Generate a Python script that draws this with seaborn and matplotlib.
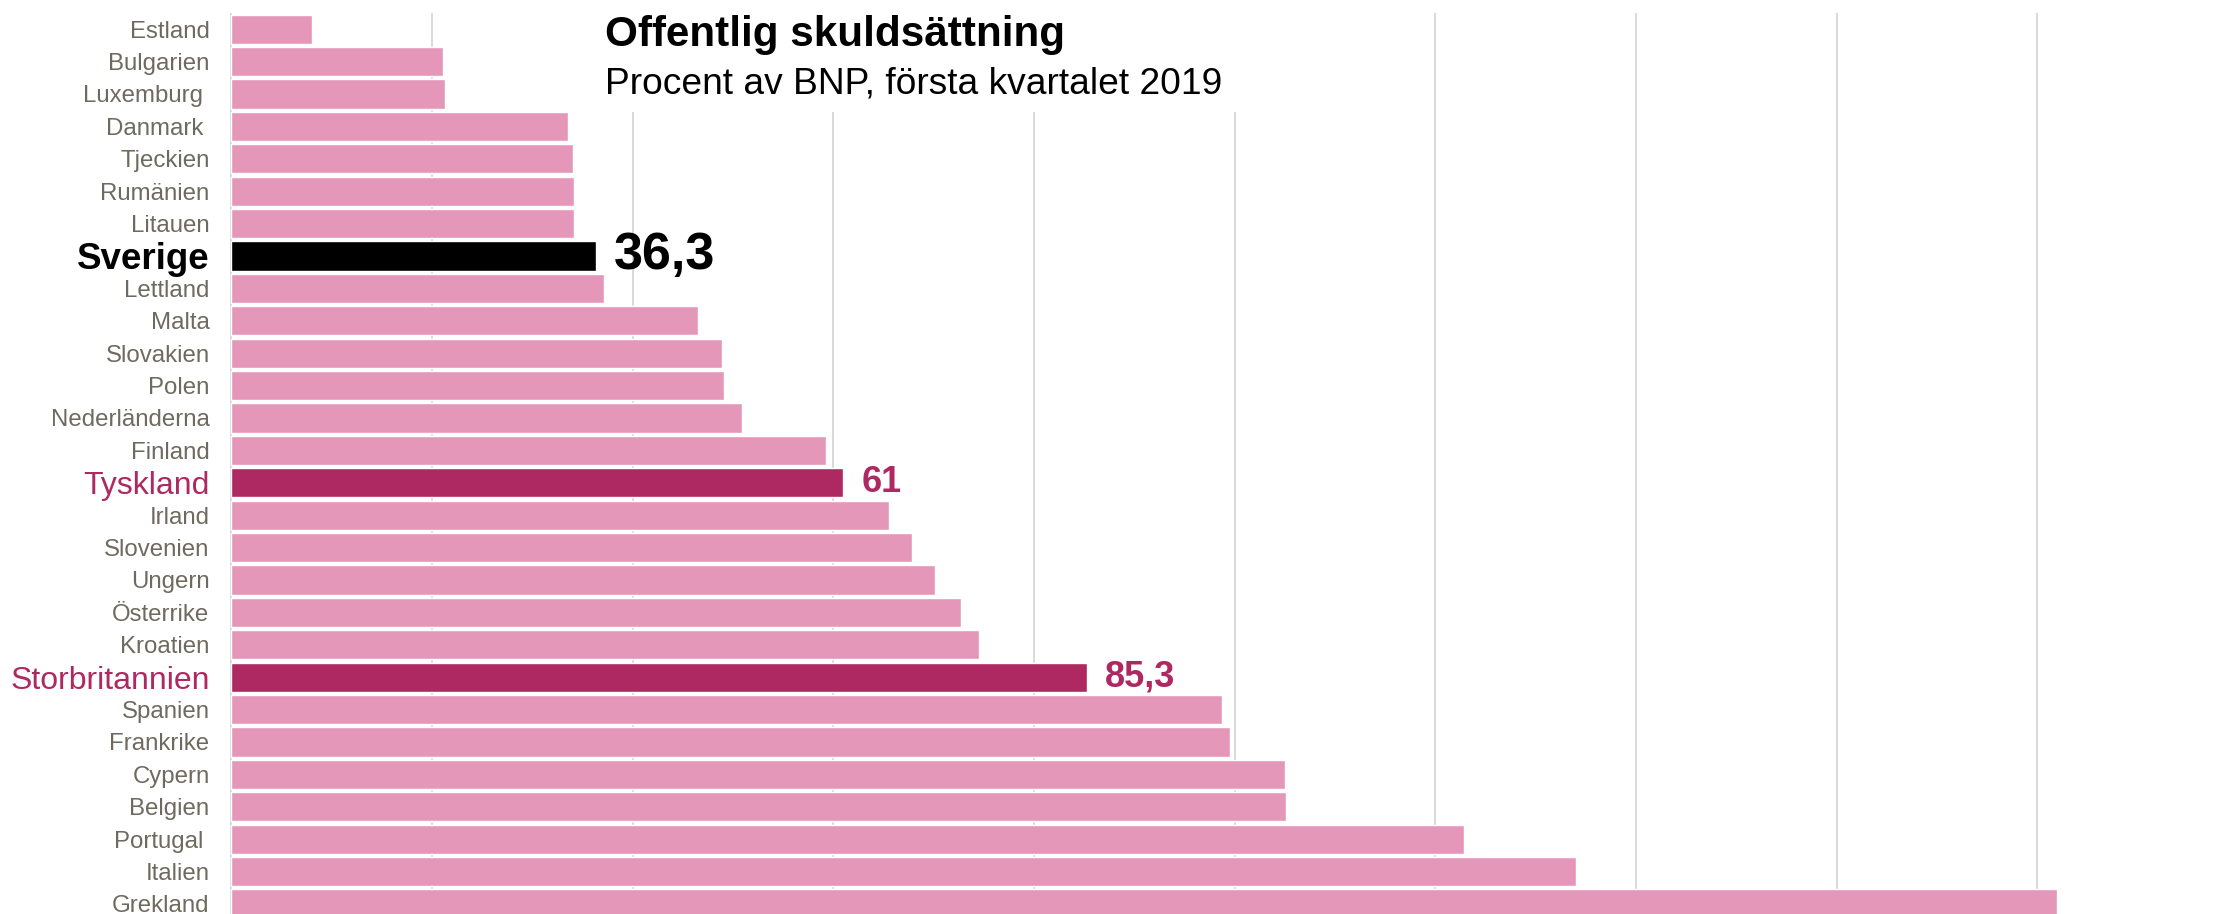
import matplotlib
matplotlib.use("Agg")
import matplotlib.pyplot as plt
import seaborn as sns
import pandas as pd
from matplotlib.patches import Rectangle

# data: public debt, % of GDP, Q1 2019
countries = ["Estland", "Bulgarien", "Luxemburg ", "Danmark ", "Tjeckien", "Rumänien",
             "Litauen", "Sverige", "Lettland", "Malta", "Slovakien", "Polen",
             "Nederländerna", "Finland", "Tyskland", "Irland", "Slovenien", "Ungern",
             "Österrike", "Kroatien", "Storbritannien", "Spanien", "Frankrike", "Cypern",
             "Belgien", "Portugal ", "Italien", "Grekland"]
debt = [8.0, 21.1, 21.3, 33.5, 34.0, 34.1, 34.1, 36.3, 37.1, 46.5, 48.9, 49.1,
        50.9, 59.3, 61.0, 65.5, 67.8, 70.1, 72.7, 74.5, 85.3, 98.7, 99.5, 105.0,
        105.1, 122.9, 134.0, 182.0]
highlight = {"Sverige": "black", "Tyskland": "#ae2961", "Storbritannien": "#ae2961"}
value_labels = {"Sverige": "36,3", "Tyskland": "61", "Storbritannien": "85,3"}

pink = "#e597ba"
label_grey = "#6f6a5f"

df = pd.DataFrame({"land": countries, "skuld": debt})
palette = {c: highlight.get(c, pink) for c in countries}

sns.set_style("white")
plt.rcParams["font.family"] = ["Liberation Sans", "DejaVu Sans"]

fig = plt.figure(figsize=(22.21, 9.14), dpi=100)
ax = fig.add_axes([230.4 / 2221, 0, 1 - 230.4 / 2221, 1 - 13 / 914])

sns.barplot(data=df, x="skuld", y="land", hue="land", palette=palette, legend=False,
            width=0.9, saturation=1, orient="h", ax=ax, zorder=3)

ax.set_xlim(-0.1, 198.3)
ax.set_ylim(27.31, -0.5)
ax.set_xticks(range(0, 200, 20))
ax.grid(axis="x", color="#d9d9d9", linewidth=1.4, zorder=0)
ax.set_axisbelow(True)
ax.set_xlabel("")
ax.set_ylabel("")
ax.tick_params(axis="x", labelbottom=False, length=0)
ax.tick_params(axis="y", length=0, pad=15)
for s in ax.spines.values():
    s.set_visible(False)

# style the country labels
for lab in ax.get_yticklabels():
    name = lab.get_text()
    if name == "Sverige":
        lab.set_color("black")
        lab.set_fontsize(26.5)
        lab.set_fontweight("bold")
    elif name in highlight:
        lab.set_color(highlight[name])
        lab.set_fontsize(23)
    else:
        lab.set_color(label_grey)
        lab.set_fontsize(17.3)

# value labels for highlighted bars
for i, (c, v) in enumerate(zip(countries, debt)):
    if c in value_labels:
        size = 37.5 if c == "Sverige" else 26
        ax.text(v + 1.8, i, value_labels[c], va="center", ha="left",
                fontsize=size, fontweight="bold", color=highlight[c])

# white block behind title so gridlines stop below it
fig.patches.append(Rectangle((598 / 2221, 1 - 112 / 914), 648 / 2221, 112 / 914,
                             transform=fig.transFigure, facecolor="white",
                             edgecolor="none", zorder=5))
fig.text(605 / 2221, 1 - 46 / 914, "Offentlig skuldsättning", fontsize=30.4,
         fontweight="bold", color="black", va="baseline", ha="left", zorder=6)
fig.text(605 / 2221, 1 - 94 / 914, "Procent av BNP, första kvartalet 2019",
         fontsize=26.7, color="black", va="baseline", ha="left", zorder=6)

fig.savefig("out.png", dpi=100, facecolor="white")
